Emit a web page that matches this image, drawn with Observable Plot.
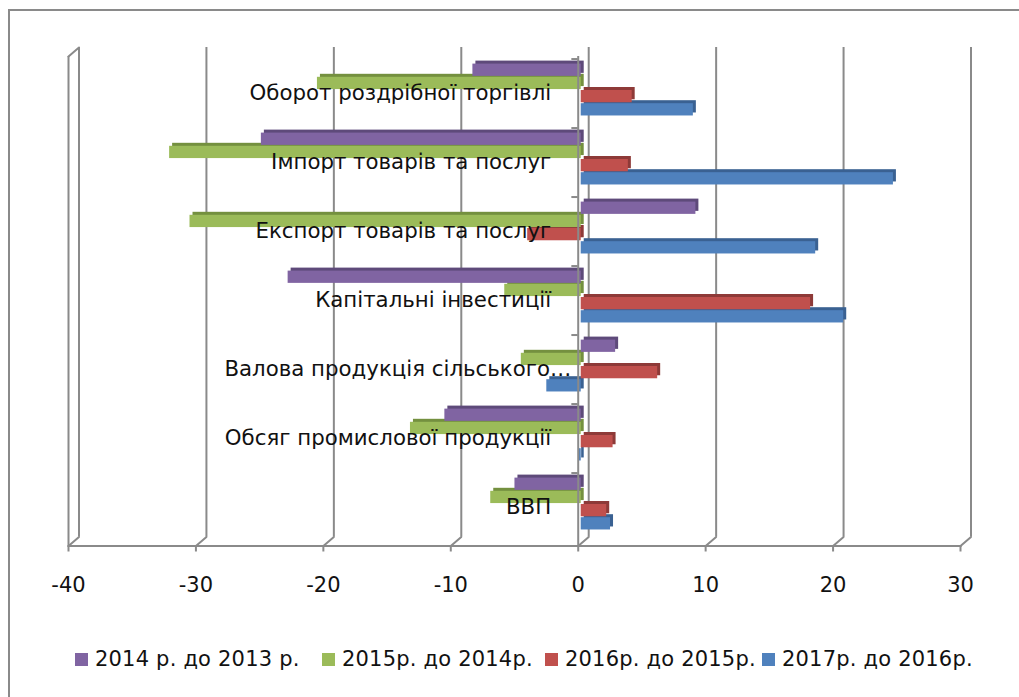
<!DOCTYPE html>
<html>
<head>
<meta charset="utf-8">
<script src="https://cdn.jsdelivr.net/npm/d3@7"></script>
<script src="https://cdn.jsdelivr.net/npm/@observablehq/plot@0.6"></script>
<style>
  html, body { margin: 0; padding: 0; background: #fff; width: 1019px; height: 697px; overflow: hidden; }
  #border { position: absolute; left: 8px; top: 9px; width: 1100px; height: 800px;
            border-left: 2px solid #8a8a8a; border-top: 2px solid #8a8a8a; }
  #chart { position: absolute; left: 0; top: 0; }
  #legend { position: absolute; left: 0; top: 647px; width: 1019px; height: 28px;
            font-family: "DejaVu Sans", sans-serif; font-size: 21px; letter-spacing: 0.2px; color: #111; }
  .item { position: absolute; top: 0; display: flex; align-items: center; white-space: nowrap; }
  .sw { width: 13px; height: 13px; margin-right: 7px; }
</style>
</head>
<body>
<div id="border"></div>
<div id="chart"></div>
<div id="legend"></div>
<script>
// ---- data ----
const categories = [
  "Оборот роздрібної торгівлі",
  "Імпорт товарів та послуг",
  "Експорт товарів та послуг",
  "Капітальні інвестиції",
  "Валова продукція сільського…",
  "Обсяг промислової продукції",
  "ВВП"
];
const series = ["2014 р. до 2013 р.", "2015р. до 2014р.", "2016р. до 2015р.", "2017р. до 2016р."];
const v2014 = [-8.5, -25.1, 9.0, -23.0, 2.7, -10.7, -5.2];
const v2015 = [-20.7, -32.3, -30.7, -6.0, -4.7, -13.4, -7.1];
const v2016 = [4.0, 3.7, -4.2, 18.0, 6.0, 2.5, 2.0];
const v2017 = [8.8, 24.5, 18.4, 20.6, -2.7, -0.2, 2.3];
const xTicks = [-40, -30, -20, -10, 0, 10, 20, 30];

const colors = ["#8064A2", "#9BBB59", "#C0504D", "#4F81BD"];
const sideColors = ["#5E4A7A", "#74903F", "#8E3A38", "#3A6192"];

const valuesBySeries = [v2014, v2015, v2016, v2017];
const table = series.map((s, i) => categories.map((c, j) => ({category: c, series: s, value: valuesBySeries[i][j]})));

// ---- layout ----
const W = 1019, H = 620, mTop = 56, mBottom = H - 545.5, mLeft = 68, mRight = W - 960;
const band = (H - mTop - mBottom) / categories.length;
const padTop = 4.6, barH = 13.2;
const grid = "#8a8a8a";
const lineShape = {draw(ctx, l) { ctx.moveTo(0, 0); ctx.lineTo(0, -l); }};

const shadowMarks = table.map((d, i) => Plot.barX(d, {
  x: "value", y: "category", fill: sideColors[i],
  insetTop: padTop + i * barH, insetBottom: band - padTop - (i + 1) * barH,
  dx: 6, dy: -3
}));
const faceMarks = table.map((d, i) => Plot.barX(d, {
  x: "value", y: "category", fill: colors[i],
  insetTop: padTop + i * barH, insetBottom: band - padTop - (i + 1) * barH,
  dx: 3
}));

const mainLabels = categories.filter(c => !c.endsWith("…"));
const longLabels = categories.filter(c => c.endsWith("…"));
const labelFont = {fontSize: 21.3, fontFamily: "DejaVu Sans", fill: "#111"};

const chart = Plot.plot({
  width: W, height: H,
  marginTop: mTop, marginBottom: mBottom, marginLeft: mLeft, marginRight: mRight,
  style: {background: "transparent", overflow: "visible"},
  x: {domain: [-40, 30], label: null},
  y: {domain: categories, padding: 0, axis: null, label: null},
  marks: [
    Plot.ruleX(xTicks, {stroke: grid, strokeWidth: 2, dx: 10.5, dy: -9}),
    Plot.vector(xTicks, {x: d => d, frameAnchor: "bottom", rotate: 49.4, length: 13.8, anchor: "start",
                         shape: lineShape, stroke: grid, strokeWidth: 2}),
    Plot.vector([-40], {x: d => d, frameAnchor: "top", rotate: 49.4, length: 13.8, anchor: "start",
                        shape: lineShape, stroke: grid, strokeWidth: 2}),
    Plot.ruleX([-40], {stroke: grid, strokeWidth: 2}),
    Plot.frame({anchor: "bottom", stroke: grid, strokeWidth: 2}),
    Plot.axisX({ticks: xTicks, tickFormat: d => String(d), tickSize: 6, tickPadding: 25, label: null,
                stroke: grid, strokeWidth: 2, fill: "#111", fontSize: 21, fontFamily: "DejaVu Sans"}),
    ...shadowMarks,
    ...faceMarks,
    Plot.ruleX([0], {stroke: grid, strokeWidth: 2}),
    Plot.ruleY(categories, {y: d => d, x1: -0.5, x2: 0, dy: -band / 2, stroke: grid, strokeWidth: 2}),
    Plot.text(mainLabels, {x: 0, y: d => d, text: d => d, textAnchor: "end", dx: -27, dy: -1, ...labelFont}),
    Plot.text(longLabels, {x: 0, y: d => d, text: d => d, textAnchor: "end", dx: -7, dy: -1, ...labelFont})
  ]
});
document.getElementById("chart").appendChild(chart);

// ---- legend ----
const legendX = [75, 322, 545, 762];
const legend = document.getElementById("legend");
series.forEach((s, i) => {
  const item = document.createElement("div");
  item.className = "item";
  item.style.left = legendX[i] + "px";
  item.innerHTML = `<span class="sw" style="background:${colors[i]}"></span><span>${s}</span>`;
  legend.appendChild(item);
});
</script>
</body>
</html>
